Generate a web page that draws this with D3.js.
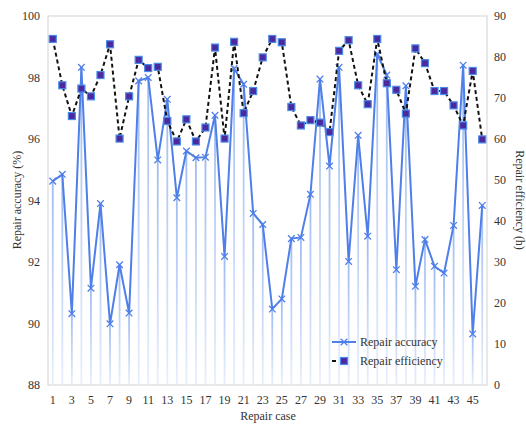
<!DOCTYPE html>
<html><head><meta charset="utf-8">
<script src="https://cdn.jsdelivr.net/npm/d3@7"></script>
<style>body{margin:0;background:#fff}svg{display:block}text{font-family:"Liberation Serif","Times New Roman",serif;fill:#333}</style>
</head><body><svg id="c" width="526" height="424"></svg>
<script>
const cases = d3.range(1, 47);
const accuracy = [94.63,94.85,90.32,98.33,91.15,93.9,89.99,91.91,90.34,97.89,98.0,95.32,97.29,94.09,95.61,95.39,95.41,96.77,92.18,98.29,97.78,93.58,93.22,90.47,90.8,92.76,92.8,94.2,97.95,95.12,98.33,92.02,96.12,92.84,98.76,98.08,91.75,97.73,91.21,92.73,91.86,91.64,93.19,98.4,89.66,93.84];
const efficiency = [84.4,73.1,65.6,72.3,70.4,75.6,83.1,60.1,70.4,79.3,77.3,77.6,64.4,59.4,64.8,59.4,62.8,82.3,60.1,83.7,66.3,71.7,79.9,84.4,83.6,67.8,63.3,64.6,64.0,61.7,81.5,84.1,73.1,68.5,84.4,73.6,72.0,66.2,82.1,78.5,71.7,71.7,68.2,63.3,76.6,59.9];
const leftTicks = [88,90,92,94,96,98,100];
const rightTicks = [0,10,20,30,40,50,60,70,80,90];
const xTickLabels = cases.filter(d => d % 2 === 1);

const m = {l:48, r:487, t:16, b:385};
const svg = d3.select("#c");
const x = d3.scaleBand().domain(cases).range([m.l, m.r]);
const yL = d3.scaleLinear().domain([88,100]).range([m.b, m.t]);
const yR = d3.scaleLinear().domain([0,90]).range([m.b, m.t]);
const cx = d => x(d) + x.bandwidth()/2;

const defs = svg.append("defs");
const g = defs.append("linearGradient").attr("id","drop").attr("x1",0).attr("y1",0).attr("x2",0).attr("y2",1).attr("gradientUnits","objectBoundingBox");
g.append("stop").attr("offset","0%").attr("stop-color","#9dbbf3");
g.append("stop").attr("offset","100%").attr("stop-color","#e8effc");

// plot border
svg.append("rect").attr("x",m.l).attr("y",m.t).attr("width",m.r-m.l).attr("height",m.b-m.t)
  .attr("fill","none").attr("stroke","#d9d9d9").attr("stroke-width",1.2);

// drop lines
svg.append("g").selectAll("rect").data(cases).join("rect")
  .attr("x", d => cx(d) - 0.9).attr("width", 1.8)
  .attr("y", (d,i) => yL(accuracy[i])).attr("height", (d,i) => m.b - yL(accuracy[i]))
  .attr("fill","url(#drop)");

// accuracy line
svg.append("path").datum(accuracy)
  .attr("d", d3.line().x((d,i) => cx(cases[i])).y(d => yL(d)))
  .attr("fill","none").attr("stroke","#4f7fe8").attr("stroke-width",2);
const xm = (sel, s) => sel.attr("d", `M${-s},${-s}L${s},${s}M${-s},${s}L${s},${-s}`);
svg.append("g").selectAll("path").data(accuracy).join("path")
  .attr("transform",(d,i) => `translate(${cx(cases[i])},${yL(d)})`)
  .call(xm, 3.3).attr("stroke","#4f7fe8").attr("stroke-width",1.3).attr("fill","none");

// efficiency line
svg.append("path").datum(efficiency)
  .attr("d", d3.line().x((d,i) => cx(cases[i])).y(d => yR(d)))
  .attr("fill","none").attr("stroke","#111").attr("stroke-width",2).attr("stroke-dasharray","4,3");
svg.append("g").selectAll("rect").data(efficiency).join("rect")
  .attr("x",(d,i) => cx(cases[i]) - 3.5).attr("y", d => yR(d) - 3.5)
  .attr("width",7).attr("height",7).attr("fill","#4b2aa0").attr("stroke","#4a8ae8").attr("stroke-width",1.2);

// axes
const fs = "12px";
const la = svg.append("g").attr("transform",`translate(${m.l},0)`)
  .call(d3.axisLeft(yL).tickValues(leftTicks).tickSize(0).tickPadding(8));
la.select(".domain").remove();
la.selectAll("text").style("font-size",fs).attr("fill","#333").attr("font-family","Liberation Serif");
const ra = svg.append("g").attr("transform",`translate(${m.r},0)`)
  .call(d3.axisRight(yR).tickValues(rightTicks).tickSize(0).tickPadding(7));
ra.select(".domain").remove();
ra.selectAll("text").style("font-size",fs).attr("fill","#333").attr("font-family","Liberation Serif");
const ba = svg.append("g").attr("transform",`translate(0,${m.b})`)
  .call(d3.axisBottom(x).tickValues(xTickLabels).tickSize(0).tickPadding(10));
ba.select(".domain").remove();
ba.selectAll("text").style("font-size",fs).attr("fill","#333").attr("font-family","Liberation Serif");

svg.append("text").attr("x",268).attr("y",420).attr("text-anchor","middle").style("font-size","12px").text("Repair case");
svg.append("text").attr("transform","translate(21,200) rotate(-90)").attr("text-anchor","middle").style("font-size","12px").text("Repair accuracy (%)");
svg.append("text").attr("transform","translate(516,200) rotate(90)").attr("text-anchor","middle").style("font-size","12px").text("Repair efficiency (h)");

// legend
const lg = svg.append("g");
lg.append("line").attr("x1",332).attr("x2",356).attr("y1",342).attr("y2",342).attr("stroke","#4f7fe8").attr("stroke-width",2);
lg.append("path").attr("transform","translate(344,342)").call(xm,3.3).attr("stroke","#4f7fe8").attr("stroke-width",1.3);
lg.append("text").attr("x",360).attr("y",346).style("font-size","12px").text("Repair accuracy");
lg.append("line").attr("x1",332).attr("x2",356).attr("y1",361).attr("y2",361).attr("stroke","#111").attr("stroke-width",2).attr("stroke-dasharray","4,8");
lg.append("rect").attr("x",340.5).attr("y",357.5).attr("width",7).attr("height",7).attr("fill","#4b2aa0").attr("stroke","#4a8ae8").attr("stroke-width",1.2);
lg.append("text").attr("x",360).attr("y",365).style("font-size","12px").text("Repair efficiency");
</script></body></html>
